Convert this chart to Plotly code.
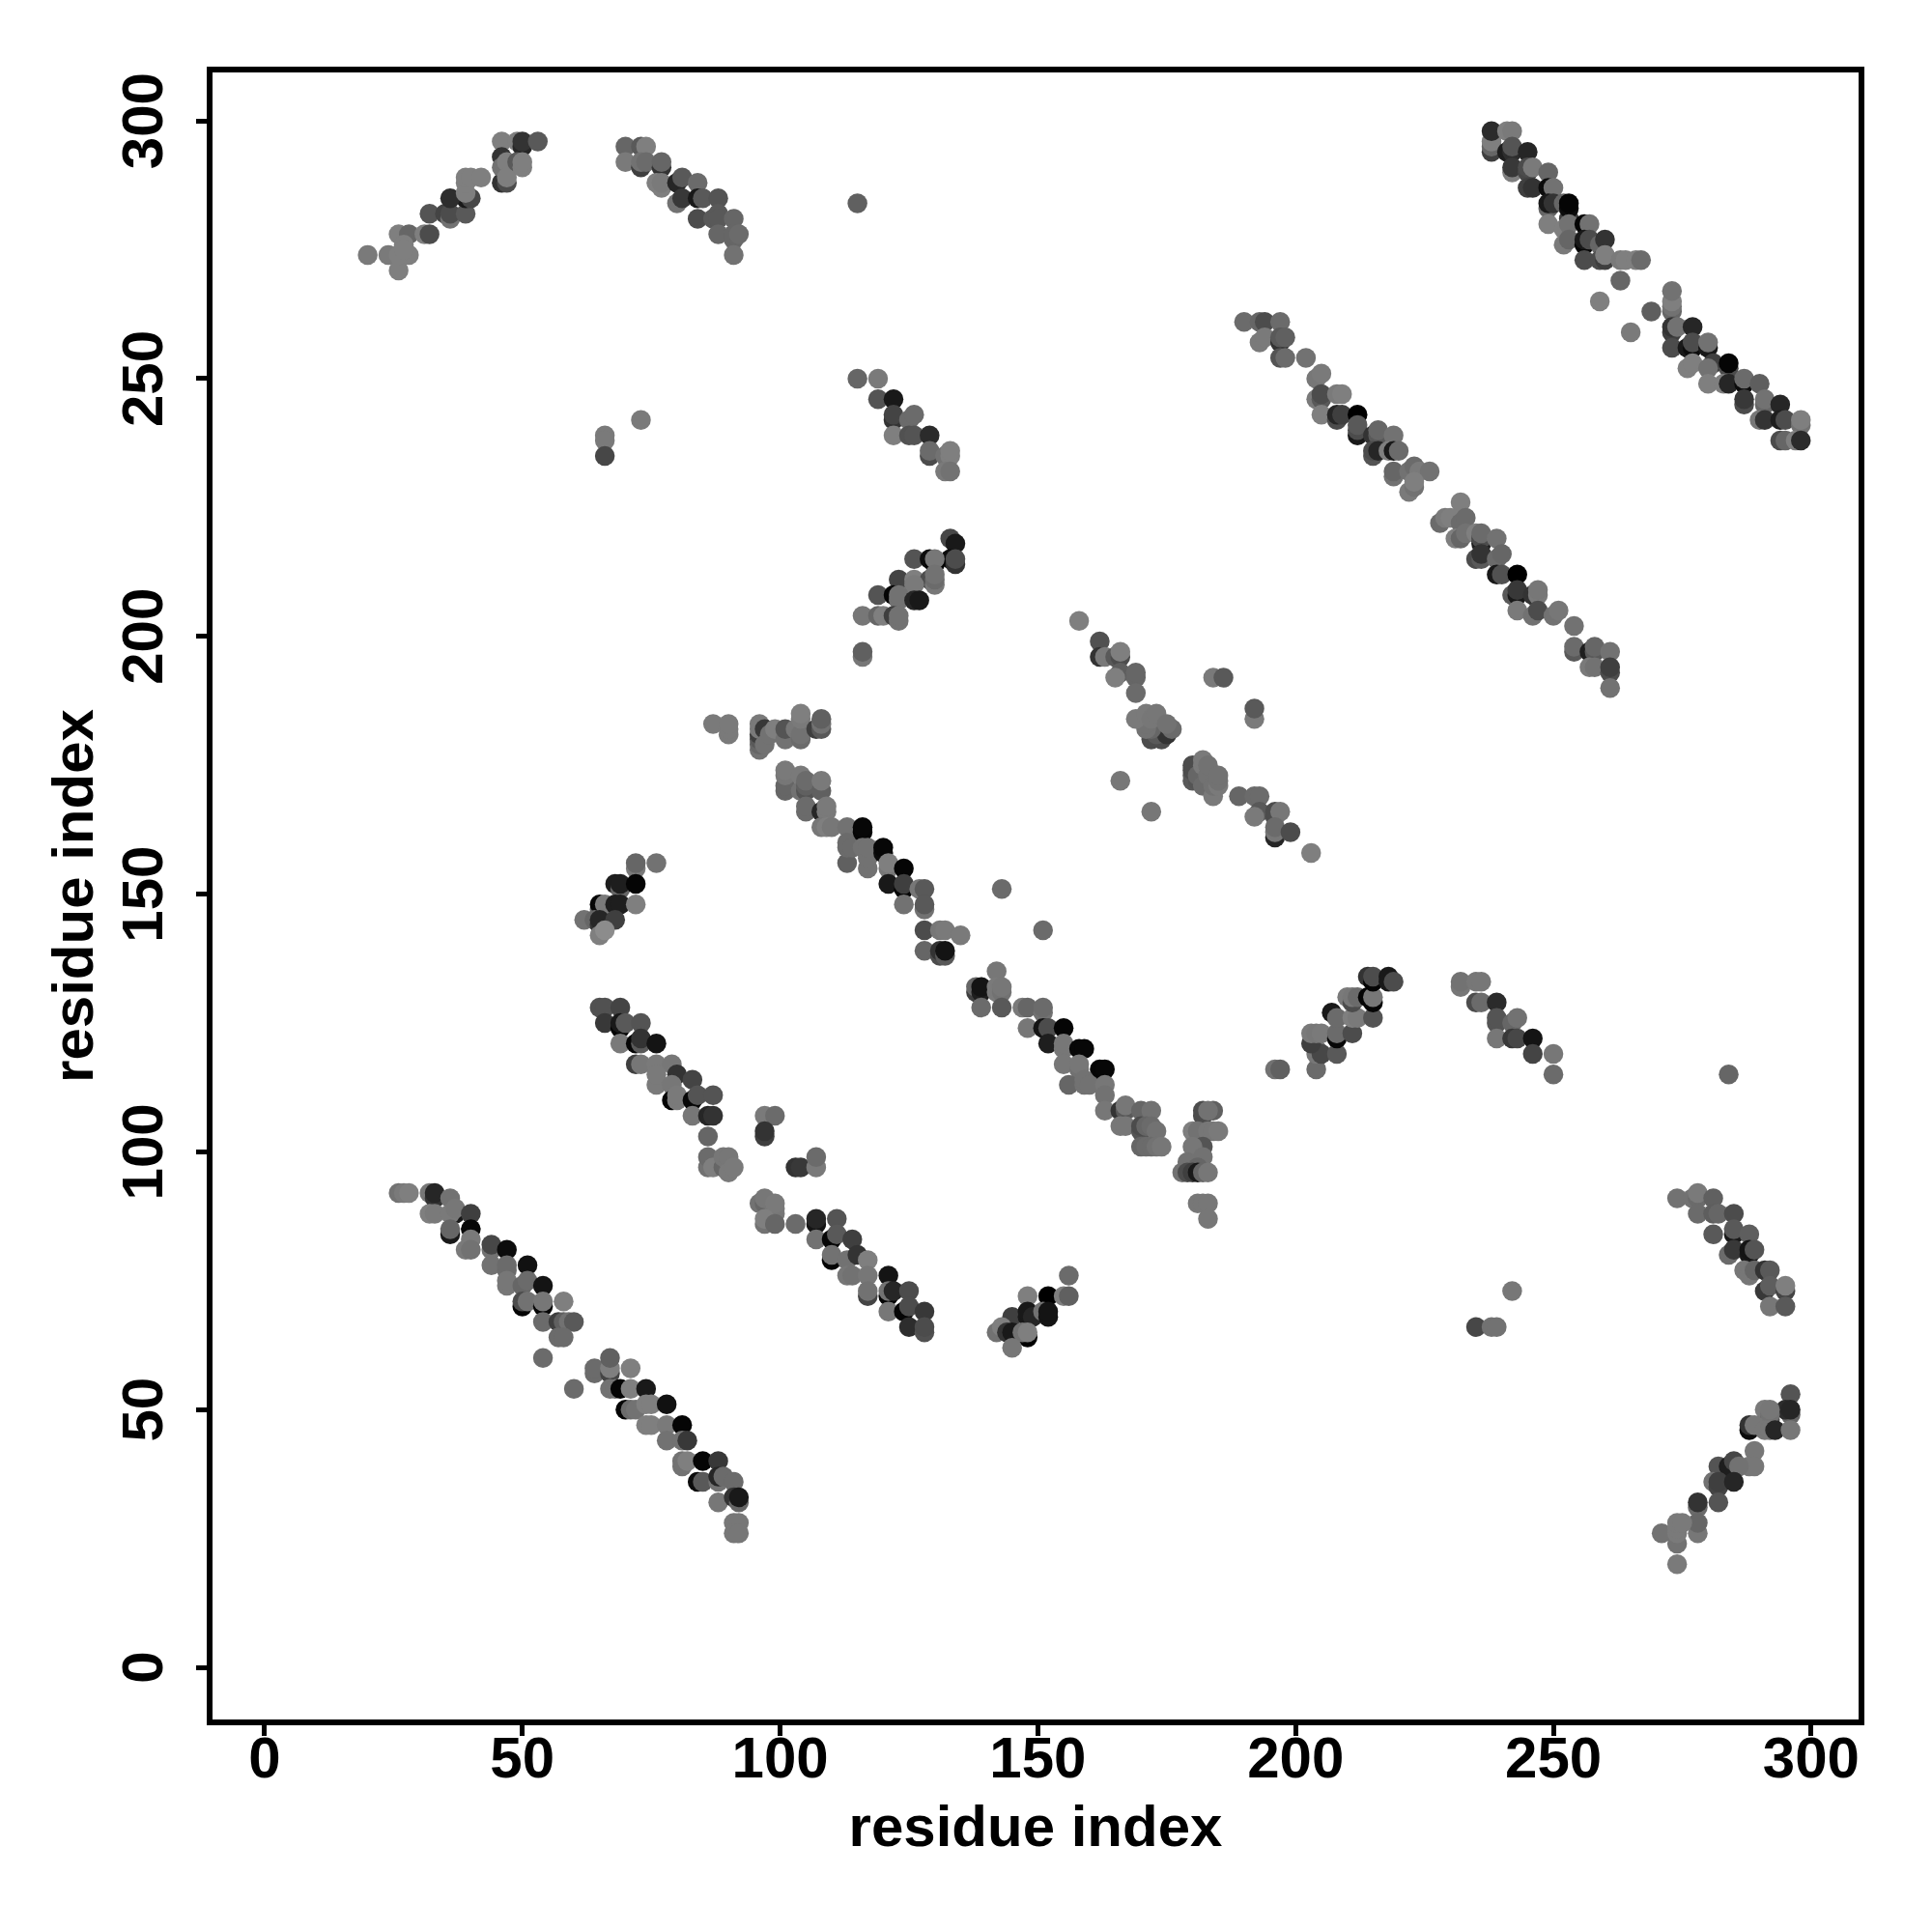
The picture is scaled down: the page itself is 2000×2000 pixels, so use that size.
import plotly.graph_objects as go

# each contact: (residue x, residue y, grey level 0=black .. 0.5=mid grey)
upper_left = [(20,274,.48),(24,274,.48),(26,271,.5),(26,278,.5),(28,278,.4),(27,276,.5),(28,274,.5),(26,274,.5),(27,275,.5),(31,278,.5),(32,278,.3),
(32,282,.33),(35,282,.27),(36,281,.45),(36,282,.3),(39,282,.35),(39,285,.1),(36,285,.18),(40,285,.28),(39,286,.5),(39,288,.5),(39,289,.5),(40,289,.5),(42,289,.5),
(46,296,.5),(49,296,.5),(50,295,.15),(50,296,.2),(53,296,.35),(46,293,.2),(46,288,.2),(47,288,.3),(46,291,.45),(47,292,.5),(47,289,.5),(49,292,.35),(50,291,.5),(50,292,.5)]
upper_mid = [(70,295,.4),(73,295,.35),(74,295,.5),(70,292,.48),(73,291,.25),(73,292,.45),(74,292,.42),(77,291,.2),(77,292,.4),(76,288,.5),(77,287,.5),(77,288,.48),
(80,288,.15),(81,289,.35),(84,288,.42),(80,284,.45),(81,285,.22),(84,285,.1),(85,285,.35),(88,285,.33),(84,281,.3),(87,281,.35),(88,282,.35),(88,281,.35),(91,281,.4),
(88,278,.4),(91,277,.4),(91,278,.4),(92,278,.42),(91,274,.45),(73,242,.48),(66,239,.48),(66,238,.48),(66,235,.28),(115,284,.38)]
upper_right = [(238,294,.25),(238,295,.4),(238,296,.5),(238,298,.17),(241,298,.5),(242,298,.48),(241,294,.12),(242,294,.18),(242,295,.33),(245,294,.15),
(242,290,.5),(242,291,.22),(245,290,.28),(245,291,.3),(246,291,.48),(249,290,.4),(245,287,.25),(246,287,.2),(249,287,.05),(250,287,.45),
(249,283,.4),(249,284,.1),(250,284,.2),(252,284,.4),(253,281,.25),(253,283,.05),(253,284,.02),(249,280,.5),(252,279,.5),(253,280,.45),(256,280,.02),(257,280,.45),
(252,276,.48),(253,277,.4),(256,276,.03),(256,277,.1),(257,277,.3),(259,276,.4),(260,277,.2),(256,273,.3),(259,273,.3),(260,273,.25),(260,274,.5),(263,273,.48),(264,273,.5),(266,273,.5),(267,273,.42),
(263,269,.4),(259,265,.5),(269,263,.37),(265,259,.48),(273,263,.4),(273,264,.45),(273,265,.5),(273,267,.45),(273,259,.25),(273,260,.2),(274,260,.45),(277,260,.15),
(273,256,.3),(276,256,.1),(277,256,.05),(277,257,.3),(280,256,.1),(280,257,.45),(276,252,.5),(277,253,.5),(281,253,.25),(280,252,.45),(284,252,.3),(284,253,.02),(280,249,.5),(283,249,.5),(284,249,.15),
(287,249,.05),(287,250,.42),(290,249,.37),(287,245,.3),(287,246,.22),(291,245,.4),(291,246,.45),(294,245,.15),(290,242,.47),(291,242,.2),(294,242,.12),(295,242,.3),(298,241,.45),(298,242,.5),
(294,238,.3),(295,238,.4),(297,238,.5),(298,238,.17)]
long_diag = [(190,261,.42),(193,261,.4),(194,261,.3),(197,261,.42),(193,257,.48),(194,258,.48),(197,257,.2),(197,258,.35),(198,258,.38),(197,254,.33),(198,254,.42),(202,254,.45),
(204,250,.47),(205,251,.48),(204,246,.48),(205,246,.35),(205,247,.3),(208,247,.48),(209,247,.5),(205,243,.5),(208,242,.3),(208,243,.15),(209,243,.25),(212,243,0),
(212,239,.1),(212,240,.3),(212,241,.35),(215,239,.2),(216,239,.35),(216,240,.4),(219,239,.45),(215,235,.33),(215,236,.3),(216,236,.15),(218,236,.5),(219,236,.1),(220,236,.42),
(219,231,.45),(219,232,.4),(222,232,.45),(223,233,.42),(224,232,.48),(226,232,.45),(222,228,.48),(223,229,.45),(223,230,.5),
(232,226,.5),(228,222,.42),(229,223,.48),(230,223,.5),(232,222,.42),(233,223,.42),(231,219,.5),(232,219,.4),(233,220,.45),(235,220,.5),(236,218,.12),(236,219,.3),(236,220,.42),(239,219,.45),
(235,215,.3),(236,215,.35),(236,216,.2),(239,215,.42),(240,216,.4),(239,212,.1),(240,212,.32),(243,212,0),(242,208,.35),(243,208,.1),(243,209,.22),(246,208,.2),(247,208,.48),(247,209,.47),
(243,205,.48),(246,204,.45),(247,205,.3),(250,204,.45),(251,205,.47),(254,202,.45),(254,197,.35),(254,198,.42),(257,197,.12),(258,197,.35),(258,198,.4),(261,197,.45),
(257,194,.48),(258,194,.45),(261,193,.3),(261,194,.25),(261,190,.45)]
mid_a = [(115,250,.4),(119,250,.48),(119,246,.33),(122,246,.1),(122,242,.2),(122,243,.27),(122,239,.5),(125,242,.42),(126,243,.42),(125,239,.32),(126,239,.33),(129,239,.17),
(129,235,.3),(129,236,.42),(132,235,.45),(133,235,.5),(133,236,.5),(132,232,.48),(133,232,.45)]
mid_b = [(133,219,.28),(134,218,.1),(133,215,.05),(134,214,.2),(134,215,.3),(126,215,.33),(129,215,.05),(130,214,0),(130,215,.47),(123,211,.27),(126,211,.5),(129,211,.3),(130,210,.47),(130,211,.42),(130,212,.45),(126,210,.48),
(119,208,.33),(122,208,.02),(123,207,.45),(123,208,.45),(126,207,.15),(127,207,.1),(116,204,.47),(119,204,.4),(120,204,.5),(122,204,.25),(123,203,.45),(123,204,.45),(116,196,.47),(116,197,.38)]
mid_c = [(158,203,.5),(162,199,.32),(162,196,.2),(163,196,.48),(165,196,.35),(166,196,.3),(166,197,.5),(166,193,.37),(165,192,.5),(169,192,.4),(169,193,.4),(169,189,.42),
(184,192,.48),(186,192,.35),(192,184,.48),(192,186,.35),(166,172,.47),(172,166,.47),
(172,180,.3),(174,180,.3),(173,181,.35),(175,181,.2),(172,182,.4),(171,182,.45),(171,183,.45),(169,184,.48),(171,185,.48),(172,184,.47),(173,185,.47),(176,182,.42),(175,183,.45),
(180,172,.35),(180,173,.35),(180,174,.3),(180,175,.3),(181,172,.33),(181,173,.4),(182,171,.42),(182,175,.48),(182,176,.48),(183,173,.45),(183,175,.45),(184,169,.48),(184,171,.45),(185,171,.48),(185,172,.45),(185,173,.45),
(189,169,.4),(192,169,.42),(193,169,.42),(193,166,.35),(192,165,.48),(196,165,.3),(196,166,.3),(197,166,.47),(196,161,.15),(196,162,.47),(196,163,.42),(199,162,.3),(203,158,.5)]
centre_a = [(87,183,.48),(90,181,.48),(90,182,.48),(90,183,.48),(96,178,.45),(96,179,.4),(96,180,.35),(96,181,.25),(96,182,.48),(96,183,.48),(97,182,.22),(97,179,.45),(98,181,.45),(99,182,.5),(101,180,.45),(101,182,.33),(103,182,.47),
(104,180,.42),(104,181,.45),(104,184,.48),(104,185,.5),(107,182,.25),(108,182,.35),(108,183,.45),(108,184,.38),
(101,170,.4),(101,171,.4),(101,173,.47),(101,174,.48),(104,170,.45),(104,173,.48),(105,170,.33),(105,171,.38),(105,172,.42),(108,170,.38),(108,172,.48),
(105,166,.42),(105,167,.42),(108,166,.15),(109,166,.48),(109,167,.48),(108,163,.47),(109,163,.5),(110,163,.47),
(113,163,.45),(113,156,.38),(113,159,.42),(113,160,.42),(114,159,.42),(116,162,.02),(116,163,.03),(116,159,.45),(117,155,.45),(117,157,.45),(117,159,.45),
(120,158,.05),(120,159,.03),(121,155,.47),(121,156,.5),(124,155,.02),(121,152,.1),(124,151,.03),(124,152,.25),(124,148,.45),(127,151,.47),(128,151,.35),(128,147,.45),(128,148,.35),
(128,143,.3),(131,143,.47),(132,143,.48),(135,142,.48),(128,139,.4),(131,138,.3),(131,139,.2),(132,138,.35),(132,139,.08),(143,151,.42),(151,143,.42)]
centre_b = [(142,135,.47),(138,131,.25),(138,132,.4),(139,131,.12),(139,132,.08),(142,131,.48),(142,132,.48),(143,131,.45),(143,132,.47),(139,128,.42),(143,128,.35),
(147,128,.48),(148,128,.4),(151,127,.45),(151,128,.42),(148,124,.47),(151,124,.08),(152,124,.3),(155,124,.02),(152,121,.12),(155,120,.47),(155,121,.47),(158,120,.03),(159,120,.03),
(155,117,.47),(158,116,.45),(158,117,.47),(162,116,.02),(163,116,.03),(156,113,.4),(159,113,.45),(159,114,.45),(160,113,.45),(163,113,.47),(163,111,.45),(163,108,.47),(166,108,.2),(167,108,.35),(167,109,.47),(170,108,.4),(172,108,.45),
(166,105,.47),(167,105,.47),(170,104,.33),(170,105,.3),(171,105,.4),(172,105,.42),(173,104,.45),(170,101,.4),(171,101,.42),(172,101,.42),(173,101,.45),(174,101,.47),
(182,107,.3),(182,108,.3),(184,108,.38),(183,108,.45),(180,104,.5),(181,104,.45),(183,104,.47),(184,104,.47),(185,104,.48),(182,101,.33),(180,101,.47),(182,99,.45),(179,98,.45),(181,97,.4),
(178,96,.45),(179,96,.3),(180,96,.25),(181,96,.1),(182,96,.4),(183,96,.47),(181,90,.47),(182,90,.47),(183,90,.47),(183,87,.47)]
left_mid = [(72,155,.48),(72,156,.4),(76,156,.45),(68,152,.12),(69,151,.4),(69,152,.12),(72,152,.02),(65,147,.4),(65,148,.02),(66,148,.48),(68,148,.12),(69,148,.12),(72,148,.5),
(62,145,.45),(64,145,.4),(65,144,.2),(65,145,.15),(68,145,.25),(65,142,.5),(66,143,.55),
(65,128,.32),(66,128,.32),(69,128,.27),(66,125,.22),(69,124,.02),(69,125,.1),(70,125,.35),(73,125,.33),(69,121,.48),(72,121,.03),(73,121,.35),(73,122,.2),(76,121,.08),
(72,117,.25),(73,117,.47),(76,117,.48),(79,117,.47),(76,113,.48),(76,115,.48),(80,115,.2),(83,114,.27),(79,113,.47),(79,110,.02),(80,110,.48),(80,111,.48),(83,110,.03),(84,111,.33),(87,111,.33),
(83,107,.47),(86,107,.15),(87,107,.2),(86,103,.4),(86,97,.45),(86,99,.42),(87,97,.5),(89,97,.4),(89,99,.47),(90,98,.47),(90,99,.47),(90,96,.48),(91,97,.48),
(97,107,.48),(99,107,.42),(97,103,.25),(97,104,.2),(103,97,.2),(104,97,.22),(107,97,.48),(107,99,.42)]
lower_mid = [(96,90,.45),(97,90,.4),(97,91,.47),(99,88,.47),(99,89,.47),(99,90,.48),(97,86,.45),(97,87,.5),(99,86,.4),(103,86,.42),(107,86,.08),(107,87,.15),(111,87,.33),
(107,83,.45),(110,83,.03),(111,84,.35),(114,83,.25),(110,79,.02),(110,80,.45),(113,79,.45),(115,80,.2),(117,79,.5),(113,76,.47),(114,76,.45),(117,76,.47),(117,72,.27),(117,73,.45),
(121,76,.08),(121,72,.02),(121,73,.45),(122,73,.15),(125,73,.3),(121,69,.47),(124,69,.02),(125,70,.3),(128,69,.22),(125,66,.18),(128,65,.32),(128,66,.3),
(156,76,.42),(148,72,.5),(152,72,0),(155,72,.5),(156,72,.38),(145,68,.25),(148,68,.1),(148,69,.1),(149,68,.15),(151,69,.45),(152,68,.08),(152,69,.08),
(142,65,.45),(143,66,.5),(144,65,.2),(145,65,.1),(148,64,0),(147,65,.45),(148,65,.5),(145,62,.47)]
lower_left = [(26,92,.45),(27,92,.48),(28,92,.5),(32,92,.47),(33,91,.2),(33,92,.15),(32,88,.5),(33,88,.48),(36,91,.45),(37,88,.1),(36,88,.48),(37,89,.47),(40,88,.25),
(36,84,.1),(36,85,.4),(40,85,.03),(40,83,.48),(39,81,.48),(40,81,.45),(44,81,.45),(44,82,.28),(47,81,.05),(44,78,.45),(47,77,.42),(47,78,.42),(51,78,.07),
(47,74,.47),(47,75,.47),(50,74,.4),(51,75,.42),(54,74,.08),(50,70,.02),(50,71,.3),(51,71,.45),(54,70,.03),(54,71,.47),(58,71,.5),
(54,67,.42),(57,67,.25),(58,67,.38),(59,67,.45),(60,67,.35),(57,64,.42),(58,64,.42),(54,60,.42),(60,54,.42),
(64,57,.42),(64,58,.42),(67,57,.27),(67,58,.5),(67,60,.38),(71,58,.5),(67,54,.45),(68,54,.45),(69,54,.02),(71,54,.5),(74,54,.1),
(70,50,.02),(71,50,.42),(72,50,.45),(74,51,.5),(75,51,.5),(78,51,.07),(74,47,.5),(75,47,.5),(78,47,.48),(81,47,.02),(78,44,.45),(81,44,.45),(82,44,.22),
(81,39,.45),(81,40,.45),(82,40,.5),(85,40,.02),(88,40,.22),(84,36,.05),(85,36,.35),(88,36,.45),(88,37,.15),(89,37,.42),(91,36,.42),(88,32,.47),(91,33,.2),(92,32,.4),(92,33,.1),
(91,28,.47),(92,28,.47),(91,26,.47),(92,26,.47)]
centre_right = [(196,116,.45),(197,116,.38),(204,116,.42),(204,119,.47),(204,120,.47),(205,119,.28),(208,119,.35),(203,121,.25),(203,123,.48),(204,123,.47),(205,123,.48),(208,122,.03),(208,123,.42),(211,123,.3),
(207,127,.1),(208,126,.42),(211,126,.5),(212,126,.48),(215,126,.33),(210,130,.48),(211,129,.3),(211,130,.47),(212,130,.42),(214,130,.02),(215,129,.02),(215,130,.47),
(214,134,.2),(215,133,.02),(215,134,.3),(218,133,.1),(218,134,.1),(219,133,.3),(232,132,.47),(232,133,.45),(235,133,.47),(236,133,.47),(235,129,.3),(236,129,.42),(239,129,.17),
(239,125,.33),(239,126,.33),(242,125,.4),(243,126,.45),(239,122,.47),(242,122,.22),(243,122,.28),(246,122,.08),(246,119,.27),(250,119,.47),(250,115,.42)]
lower_right = [(284,115,.4),(274,91,.45),(277,91,.45),(278,91,.42),(278,92,.48),(278,88,.42),(281,91,.38),(281,88,.37),(282,88,.4),(285,88,.3),(281,84,.35),(285,84,.1),(285,85,.35),(288,84,.37),
(284,80,.42),(285,81,.22),(288,80,.1),(288,81,.08),(289,81,.33),(287,77,.47),(288,76,.47),(289,77,.4),(291,77,.2),(292,77,.35),(291,73,.22),(292,74,.37),(295,73,.27),(295,74,.5),(292,70,.47),(295,70,.35),
(242,73,.47),(235,66,.28),(238,66,.45),(239,66,.45),
(296,53,.33),(296,49,.4),(295,50,.18),(296,50,.15),(291,50,.48),(292,48,.3),(292,49,.45),(292,50,.47),(288,46,.05),(288,47,.2),(289,47,.47),(291,46,.47),(292,46,.47),(293,46,.15),(296,46,.47),
(289,42,.47),(288,39,.47),(289,39,.47),(282,39,.33),(284,39,.12),(285,40,.28),(286,39,.45),(281,36,.45),(282,35,.27),(282,36,.25),(285,36,.15),(282,32,.33),(278,31,.42),(278,32,.2),
(278,26,.47),(278,28,.4),(271,26,.45),(274,24,.45),(274,26,.48),(274,27,.48),(274,28,.48),(275,28,.48),(274,20,.48)]

regions = [upper_left, upper_mid, upper_right, long_diag, mid_a, mid_b, mid_c, centre_a, centre_b,
           left_mid, lower_mid, lower_left, centre_right, lower_right]
points = [p for region in regions for p in region]
xs = [p[0] for p in points]
ys = [p[1] for p in points]
cols = ["rgb({0},{0},{0})".format(int(p[2] * 255)) for p in points]

tick_vals = [0, 50, 100, 150, 200, 250, 300]
axis_title = "residue index"
FONT = "Liberation Sans"

fig = go.Figure(go.Scatter(x=xs, y=ys, mode="markers",
                           marker=dict(size=20.5, color=cols, line=dict(width=0))))
axis = dict(tickmode="array", tickvals=tick_vals,
            ticks="outside", ticklen=11, tickwidth=4.5, tickcolor="black",
            showline=True, linewidth=6, linecolor="black", mirror=True,
            showgrid=False, zeroline=False,
            tickfont=dict(family=FONT, size=60, color="black", weight="bold"))
title_font = dict(family=FONT, size=60, color="black", weight="bold")
fig.update_xaxes(**axis, range=[-10.1, 309.2], ticklabelstandoff=-29,
                 title=dict(text=axis_title, standoff=19, font=title_font))
fig.update_yaxes(**axis, range=[-10.12, 309.4], tickangle=-90, ticklabelstandoff=11, ticklabelshift=9,
                 title=dict(text=axis_title, standoff=0, font=title_font))
fig.update_layout(width=2000, height=2000, autosize=False, showlegend=False,
                  plot_bgcolor="white", paper_bgcolor="white",
                  margin=dict(l=220, r=76, t=75, b=220, autoexpand=False))
fig.write_html("out.html", config={"displayModeBar": False},
               post_script="document.body.style.margin='0';")
